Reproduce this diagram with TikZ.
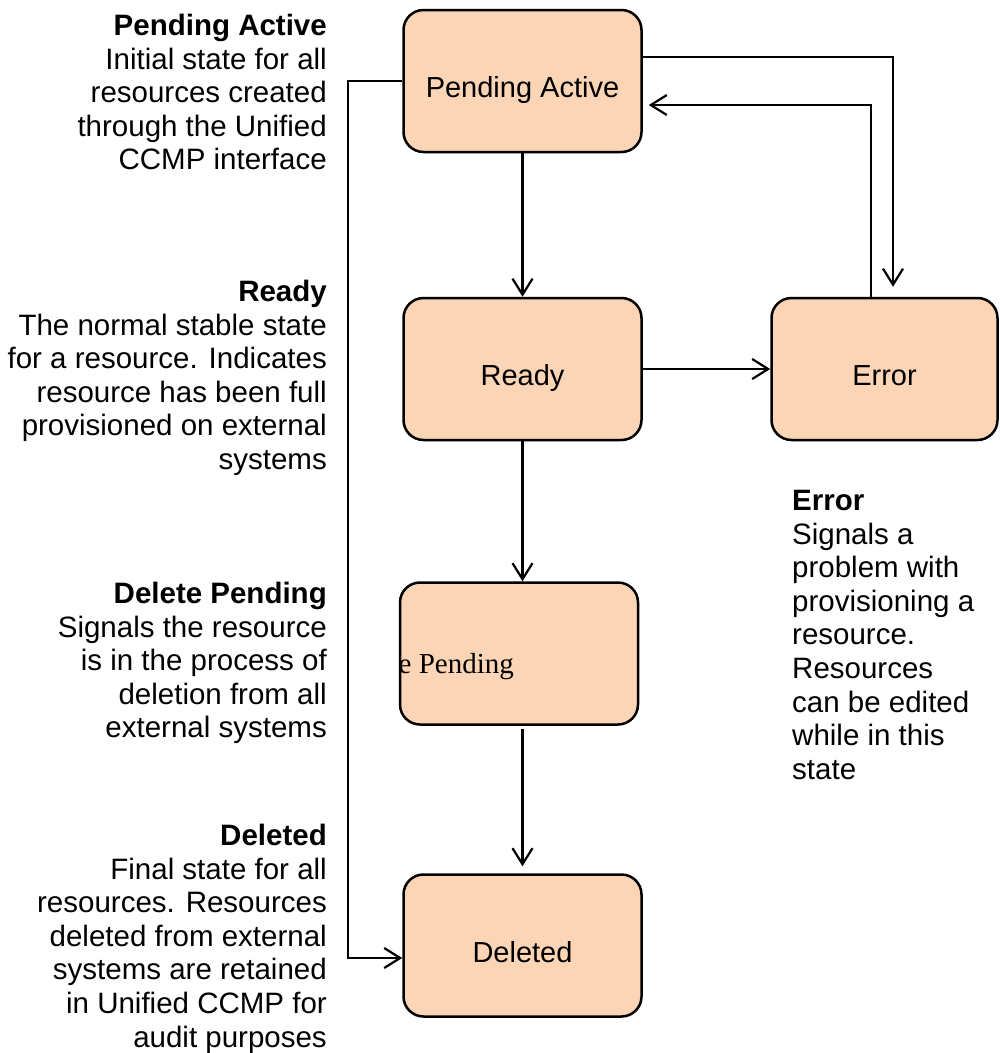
\documentclass[tikz,border=0pt]{standalone}
\usepackage{fontspec}
\setmainfont{Liberation Sans}
\newfontfamily\lcserif{Liberation Serif}
\usetikzlibrary{arrows.meta,positioning,calc}
\definecolor{LcPeach}{RGB}{251,213,181}
\tikzset{
  lc/state/.style={
    draw=black,
    line width=2.5pt,
    rounded corners=20pt,
    fill=LcPeach,
    align=center,
    minimum width=238pt,
    minimum height=142pt,
    inner sep=0pt,
    text height=33pt,
    text depth=0pt,
    font=\fontsize{29}{33}\selectfont
  },
  lc/arrow/.style={-{Straight Barb[length=16pt,width=20pt,line width=2.2pt]}, line width=2.2pt, draw=black},
  lc/note/.style={align=right, anchor=north east, inner sep=0pt, font=\fontsize{29.5}{33.6}\selectfont},
  lc/noteleft/.style={align=left, anchor=north west, inner sep=0pt, font=\fontsize{29.5}{33.6}\selectfont}
}

\begin{document}
\begin{tikzpicture}[x=1pt,y=-1pt]
  \useasboundingbox (0,0) rectangle (1000,1053);
  % states
  \node[lc/state] (active) at (522.5,81) {Pending Active};
  \node[lc/state] (ready) at (522.5,369) {Ready};
  \node[lc/state,minimum width=226pt] (error) at (884.5,369) {Error};
  \node[lc/state] (delpend) at (519,653.5) {};
  \node[lc/state] (deleted) at (522.5,945.5) {Deleted};
  \begin{scope}
    \clip[rounded corners=18pt] ([shift={(1.25pt,1.25pt)}]delpend.south west) rectangle ([shift={(-1.25pt,-1.25pt)}]delpend.north east);
    \node[anchor=base east, inner sep=0pt, font=\lcserif\fontsize{29}{33}\selectfont] (delpendtext) at (514,673) {Delete Pending};
  \end{scope}
  % notes
  \node[lc/note] (noteactive) at (327,14) {\textbf{Pending Active}\\Initial state for all\\resources created\\through the Unified\\CCMP interface};
  \node[lc/note] (noteready) at (327,280) {\textbf{Ready}\\The normal stable state\\for a resource. Indicates\\resource has been full\\provisioned on external\\systems};
  \node[lc/note] (notedelpend) at (327,582) {\textbf{Delete Pending}\\Signals the resource\\is in the process of\\deletion from all\\external systems};
  \node[lc/note] (notedeleted) at (327,824) {\textbf{Deleted}\\Final state for all\\resources. Resources\\deleted from external\\systems are retained\\in Unified CCMP for\\audit purposes};
  \node[lc/noteleft] (noteerror) at (792,490) {\textbf{Error}\\Signals a\\problem with\\provisioning a\\resource.\\Resources\\can be edited\\while in this\\state};
  % transitions
  \coordinate (railbottom) at (348,958);
  \draw[lc/arrow] (active) -- (ready);
  \draw[lc/arrow] (ready.south) -- (ready.south |- delpend.north);
  \draw[lc/arrow, shorten <=3pt, shorten >=7pt] (ready.south |- delpend.south) -- (ready.south |- deleted.north);
  \draw[lc/arrow] (ready) -- (error);
  \draw[lc/arrow, shorten >=10pt] ([yshift=24pt]active.east) -| ([xshift=8.5pt]error.north);
  \draw[lc/arrow, shorten >=6pt] ([xshift=-13.5pt]error.north) |- ([yshift=-24pt]active.east);
  \draw[lc/arrow] (active.west) -| (railbottom) -- ([yshift=-12.5pt]deleted.west);
\end{tikzpicture}
\end{document}
